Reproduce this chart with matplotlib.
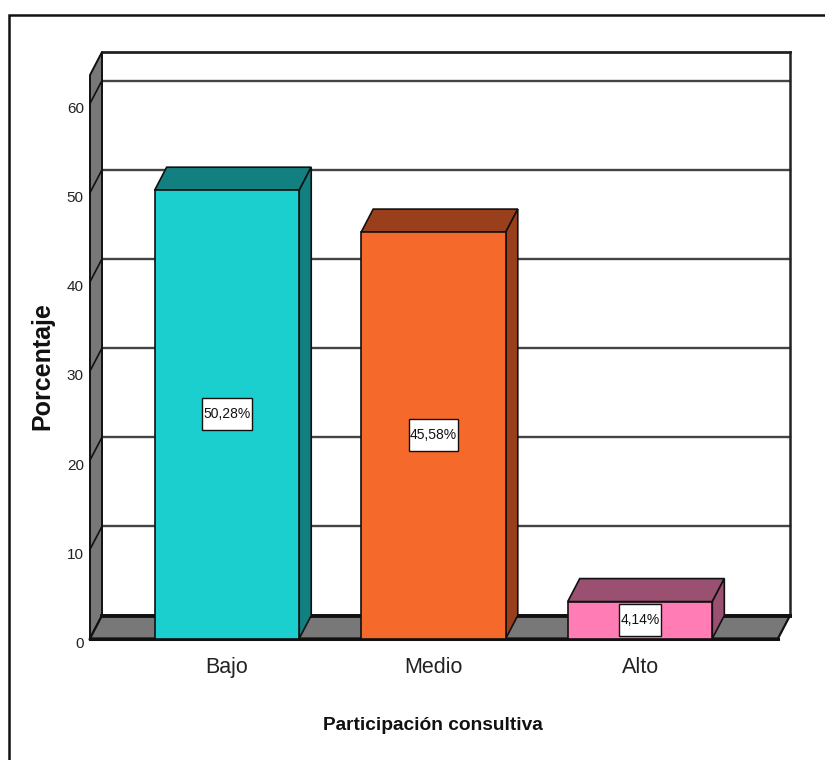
import matplotlib
matplotlib.use('Agg')
import matplotlib.pyplot as plt
from matplotlib.patches import Polygon, Rectangle

categories = ['Bajo', 'Medio', 'Alto']
values = [50.28, 45.58, 4.14]
bar_labels = ['50,28%', '45,58%', '4,14%']
yticks = [0, 10, 20, 30, 40, 50, 60]

front_colors = ['#1CCFCF', '#F5692B', '#FF7DB4']
side_colors = ['#128080', '#9A3F1C', '#9A5070']
wall_color = '#787878'
font = 'Liberation Sans'

W, H = 825, 760
fig = plt.figure(figsize=(W / 100, H / 100), dpi=100)

# axes = front plane of the 3d box
left, right, bottom, top = 90, 778, 638.5, 75
ax = fig.add_axes([left / W, 1 - bottom / H, (right - left) / W, (bottom - top) / H])
ax.set_xlim(-0.663, 2.668)
ax.set_ylim(0, 63.2)
ax.axis('off')

x0, x1 = ax.get_xlim()
ymax = ax.get_ylim()[1]
px_x = 206.5   # pixels per category
px_y = 8.917   # pixels per percent
dx = 12 / px_x   # depth offset in data units
dy = 23 / px_y
bw = 0.70


def poly(points, color, z, lw=1.5):
    ax.add_patch(Polygon(points, closed=True, facecolor=color, edgecolor='#111111',
                         linewidth=lw, zorder=z, clip_on=False))


# back wall grid lines
for t in yticks[1:]:
    ax.plot([x0 + dx, x1 + dx], [t + dy, t + dy], color='#444444', lw=1.7, zorder=1, clip_on=False)
ax.plot([x0 + dx, x1 + dx], [ymax + dy, ymax + dy], color='#222222', lw=2, zorder=1, clip_on=False)
ax.plot([x1 + dx, x1 + dx], [dy, ymax + dy], color='#222222', lw=1.8, zorder=1, clip_on=False)

# left wall and floor
poly([(x0, 0), (x0 + dx, dy), (x0 + dx, ymax + dy), (x0, ymax)], wall_color, 2, 1.4)
for t in yticks[1:]:
    ax.plot([x0, x0 + dx], [t, t + dy], color='#111111', lw=1.2, zorder=3, clip_on=False)
poly([(x0, 0), (x1, 0), (x1 + dx, dy), (x0 + dx, dy)], wall_color, 3, 1.6)
ax.plot([x0 + dx, x1 + dx], [dy, dy], color='#111111', lw=2.8, zorder=3, clip_on=False)
ax.plot([x0, x1], [0, 0], color='#111111', lw=2.2, zorder=3, clip_on=False)

# bars
renderer = fig.canvas.get_renderer()
for i, v in enumerate(values):
    a, b = i - bw / 2, i + bw / 2
    poly([(a, v), (b, v), (b + dx, v + dy), (a + dx, v + dy)], side_colors[i], 4, 1.2)
    poly([(b, 0), (b + dx, dy), (b + dx, v + dy), (b, v)], side_colors[i], 4, 1.2)
    poly([(a, 0), (b, 0), (b, v), (a, v)], front_colors[i], 5, 1.2)
    label = ax.text(i, v / 2, bar_labels[i], ha='center', va='center', fontsize=10, family=font,
                    color='#111111', zorder=7)
    # tall label box, only a little wider than the text
    box_w = (label.get_window_extent(renderer).width + 2) / px_x
    box_h = 32 / px_y
    ax.add_patch(Rectangle((i - box_w / 2, v / 2 - box_h / 2), box_w, box_h, facecolor='white',
                           edgecolor='#111111', linewidth=1, zorder=6, clip_on=False))
    ax.text(i, -3.25, categories[i], ha='center', va='center', fontsize=15.5, family=font,
            color='#222222', clip_on=False)

for t in yticks:
    ax.text(x0 - 0.03, t - 0.6, str(t), ha='right', va='center', fontsize=11, family=font,
            color='#222222', clip_on=False)

fig.text(42 / W, 1 - 366 / H, 'Porcentaje', rotation=90, ha='center', va='center',
         fontsize=18, fontweight='bold', family=font, color='#111111')
fig.text(433 / W, 1 - 725 / H, 'Participación consultiva', ha='center', va='center',
         fontsize=13.8, fontweight='bold', family=font, color='#111111')

# outer frame, runs off the bottom and right of the image
fig.add_artist(Rectangle((9 / W, -0.02), (W + 30) / W, 1 - 15 / H + 0.02, transform=fig.transFigure,
                         fill=False, edgecolor='#111111', linewidth=1.8))

fig.savefig('out.png', dpi=100)
